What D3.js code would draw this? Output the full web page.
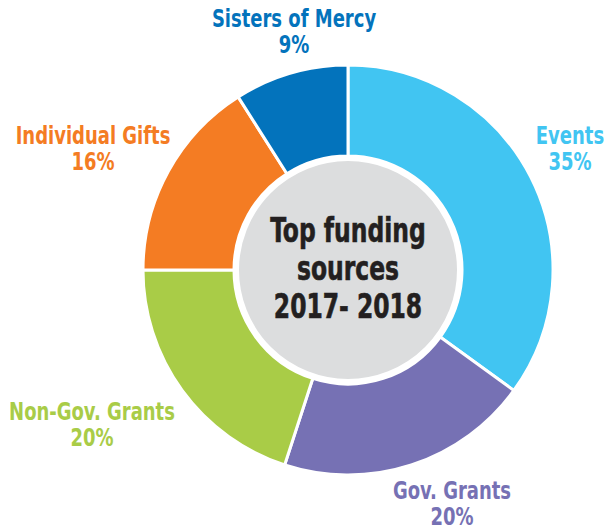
<!DOCTYPE html>
<html>
<head>
<meta charset="utf-8">
<script src="https://cdn.jsdelivr.net/npm/d3@7"></script>
<style>
  html, body { margin: 0; padding: 0; background: #fff; }
  svg { display: block; }
  text { font-family: "DejaVu Sans Condensed", "Liberation Sans Narrow", "Roboto", sans-serif; font-weight: bold; }
</style>
</head>
<body>
<svg width="605" height="531"></svg>
<script>
// chart data
var sources = ['Events', 'Gov. Grants', 'Non-Gov. Grants', 'Individual Gifts', 'Sisters of Mercy'];
var shares = [35, 20, 20, 16, 9];
var colours = ['#41c5f2', '#7671b4', '#a9cc47', '#f47c23', '#0373bc'];
var centreLines = ['Top funding', 'sources', '2017- 2018'];

// where each label sits (layout, not data)
var labelPos = [[570, 144], [452, 499], [92, 420], [93, 144], [294, 27]];

var cx = 348, cy = 270;
var outerR = 205, innerR = 114;

var svg = d3.select('svg');
var g = svg.append('g').attr('transform', 'translate(' + cx + ',' + cy + ')');

var pie = d3.pie().sort(null).value(function(d){ return d; });
var arc = d3.arc().innerRadius(innerR).outerRadius(outerR);

var arcs = pie(shares);

g.selectAll('path.slice')
    .data(arcs)
    .enter().append('path')
    .attr('class', 'slice')
    .attr('d', arc)
    .style('fill', function(d, i){ return colours[i]; })
    .style('stroke', '#fff')
    .style('stroke-width', 3);

// grey middle disc
g.append('circle')
    .attr('r', innerR - 3)
    .style('fill', '#dcddde')
    .style('stroke', '#fff')
    .style('stroke-width', 4);

// narrow, tall lettering like the original
var centre = g.append('g').attr('transform', 'scale(0.79,1)');
centre.selectAll('text.centre')
    .data(centreLines)
    .enter().append('text')
    .attr('class', 'centre')
    .attr('x', 0)
    .attr('y', function(d, i){ return -28 + i * 38; })
    .attr('text-anchor', 'middle')
    .style('font-size', '33px')
    .style('fill', '#231f20')
    .style('stroke', '#231f20')
    .style('stroke-width', 0.6)
    .text(function(d){ return d; });

// outer labels
var labels = svg.selectAll('g.label')
    .data(sources)
    .enter().append('g')
    .attr('class', 'label')
    .attr('transform', function(d, i){ return 'translate(' + labelPos[i][0] + ',' + labelPos[i][1] + ') scale(0.8,1)'; })
    .style('fill', function(d, i){ return colours[i]; });

labels.append('text')
    .attr('text-anchor', 'middle')
    .style('font-size', '25px')
    .text(function(d){ return d; });

labels.append('text')
    .attr('text-anchor', 'middle')
    .attr('y', 26)
    .style('font-size', '25px')
    .text(function(d, i){ return shares[i] + '%'; });
</script>
</body>
</html>
